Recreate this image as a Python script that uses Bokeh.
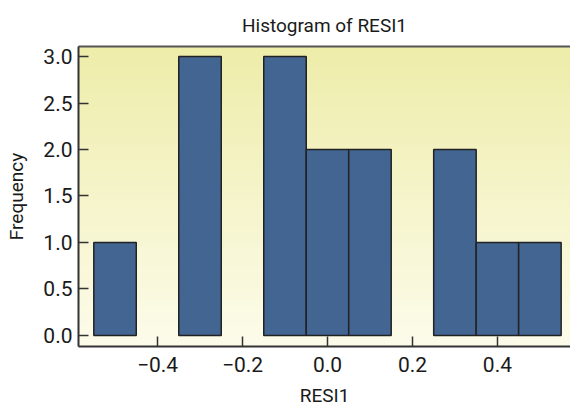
import numpy as np
from bokeh.plotting import figure
from bokeh.models import Range1d, FixedTicker, LinearAxis
from bokeh.embed import file_html
from bokeh.resources import INLINE

# Data
bin_centers = [-0.5, -0.3, -0.1, 0.0, 0.1, 0.3, 0.4, 0.5]
counts = [1, 3, 3, 2, 2, 2, 1, 1]
bin_width = 0.1
x_tick_vals = [-0.4, -0.2, 0.0, 0.2, 0.4]
x_tick_labels = ["\u22120.4", "\u22120.2", "0.0", "0.2", "0.4"]
y_tick_vals = [0.0, 0.5, 1.0, 1.5, 2.0, 2.5, 3.0]
y_tick_labels = ["0.0", "0.5", "1.0", "1.5", "2.0", "2.5", "3.0"]

FONT = "Roboto"
TXT = "#1a1a1a"

x0, x1 = -0.586, 0.572
y0, y1 = -0.119, 3.108

p = figure(width=570, height=413, output_backend="svg", toolbar_location=None,
           x_range=Range1d(x0, x1), y_range=Range1d(y0, y1),
           min_border_left=78, min_border_right=0, min_border_top=46, min_border_bottom=67)
p.title.text = "Histogram of RESI1"
p.title.align = "center"
p.title.text_font = FONT
p.title.text_font_size = "19px"
p.title.text_font_style = "normal"
p.title.text_color = TXT
p.title.standoff = 19
p.outline_line_color = None
p.grid.grid_line_color = None
p.background_fill_color = "white"

# gradient background (style only)
n = 200
top = np.array([238, 237, 170])
bot = np.array([253, 252, 235])
t = np.linspace(0, 1, n)[:, None]
cols = (bot * (1 - t) + top * t).astype(np.uint32)
img = np.empty((n, 1), dtype=np.uint32)
view = img.view(dtype=np.uint8).reshape((n, 1, 4))
view[:, 0, 0] = cols[:, 0]
view[:, 0, 1] = cols[:, 1]
view[:, 0, 2] = cols[:, 2]
view[:, 0, 3] = 255
p.image_rgba(image=[img], x=x0, y=y0, dw=x1 - x0, dh=y1 - y0, level="image")

lefts = [c - bin_width / 2 for c in bin_centers]
rights = [c + bin_width / 2 for c in bin_centers]
p.quad(left=lefts, right=rights, bottom=0, top=counts,
       fill_color="#426592", line_color="#222222", line_width=1.5)

for ax in (p.xaxis[0], p.yaxis[0]):
    ax.axis_line_color = "#333333"
    ax.axis_line_width = 2
    ax.major_tick_in = 10
    ax.major_tick_out = 0
    ax.major_tick_line_color = "#333333"
    ax.major_tick_line_width = 1.5
    ax.minor_tick_line_color = None
    ax.major_label_text_font = FONT
    ax.major_label_text_font_size = "21px"
    ax.major_label_text_color = TXT
    ax.axis_label_text_font = FONT
    ax.axis_label_text_font_size = "19px"
    ax.axis_label_text_font_style = "normal"
    ax.axis_label_text_color = TXT

p.xaxis.ticker = FixedTicker(ticks=x_tick_vals)
p.xaxis.major_label_overrides = dict(zip(x_tick_vals, x_tick_labels))
p.yaxis.ticker = FixedTicker(ticks=y_tick_vals)
p.yaxis.major_label_overrides = dict(zip(y_tick_vals, y_tick_labels))
p.xaxis.axis_label = "RESI1"
p.yaxis.axis_label = "Frequency"
p.xaxis.major_label_standoff = 10
p.yaxis.major_label_standoff = 6
p.xaxis.axis_label_standoff = 9
p.yaxis.axis_label_standoff = 12

top_ax = LinearAxis(axis_line_color="#555555", axis_line_width=2,
                    ticker=FixedTicker(ticks=[]),
                    major_tick_line_color=None, minor_tick_line_color=None,
                    major_label_standoff=0)
p.add_layout(top_ax, "above")

open("out.html", "w").write(file_html(p, INLINE))
